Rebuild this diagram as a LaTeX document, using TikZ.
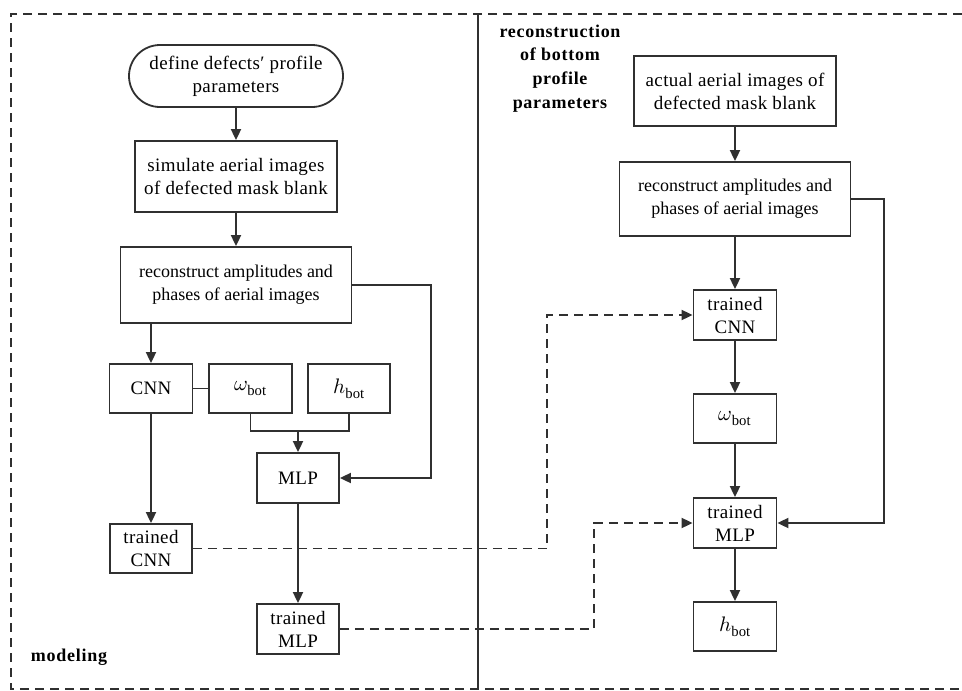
\documentclass[tikz,border=0pt]{standalone}
\usepackage{fontspec}
\usepackage{unicode-math}
\setmainfont{Liberation Serif}
\setmathfont{Latin Modern Math}
\usetikzlibrary{arrows.meta,shapes.misc,calc}
\definecolor{ln}{HTML}{303030}
\tikzset{
  box/.style={draw=ln, line width=1.8pt, rectangle, align=center, inner sep=2pt, text=black,
     font=\fontsize{19}{23}\selectfont\addfontfeature{LetterSpace=2}},
  rbox/.style={box, font=\fontsize{18}{23}\selectfont},
  arr/.style={draw=ln, line width=1.8pt, -{Triangle[length=11pt,width=10pt]}},
  plain/.style={draw=ln, line width=1.8pt},
  dasharr/.style={draw=ln, line width=1.8pt, dash pattern=on 9pt off 6pt, -{Triangle[length=11pt,width=10pt]}},
  frame/.style={draw=ln, line width=1.8pt, dash pattern=on 9pt off 6pt},
  lbl/.style={align=center, text=black, font=\fontsize{18}{23.7}\selectfont\bfseries\addfontfeature{LetterSpace=4}},
  mth/.style={font=\fontsize{21}{23}\selectfont}
}
\begin{document}
\begin{tikzpicture}[x=1pt,y=-1pt]
\useasboundingbox (0,0) rectangle (962,691);
% frames
\draw[frame] (962,14) -- (11,14) -- (11,689) -- (962,689);
\draw[plain] (478,14) -- (478,689);
% left column
\node[box, rounded rectangle, minimum width=218pt, minimum height=62pt] (def) at (236,76) {define defects′ profile\\parameters};
\node[box, minimum width=202pt, minimum height=71pt] (sim) at (236,176.5) {simulate aerial images\\of defected mask blank};
\node[rbox, minimum width=231pt, minimum height=76pt] (recL) at (236,285) {reconstruct amplitudes and\\phases of aerial images};
\node[box, minimum width=83pt, minimum height=49pt] (cnn) at (151,388.5) {CNN};
\node[box, mth, minimum width=83pt, minimum height=49pt] (omL) at (250.5,388.5) {$\omega_{\mathrm{bot}}$};
\node[box, mth, minimum width=82pt, minimum height=49pt] (hL) at (349,388.5) {$h_{\mathrm{bot}}$};
\node[box, minimum width=82pt, minimum height=50pt] (mlp) at (298,478) {MLP};
\node[box, minimum width=82pt, minimum height=49pt] (tcnnL) at (151,548.5) {trained\\CNN};
\node[box, minimum width=82pt, minimum height=50pt] (tmlpL) at (298,629) {trained\\MLP};
\node[lbl] (model) at (69,657) {modeling};
% right column
\node[lbl] (rlbl) at (560,68.5) {reconstruction\\of bottom\\profile\\parameters};
\node[box, minimum width=202pt, minimum height=70pt] (act) at (735,91) {actual aerial images of\\defected mask blank};
\node[rbox, minimum width=231pt, minimum height=74pt] (recR) at (735,199) {reconstruct amplitudes and\\phases of aerial images};
\node[box, minimum width=83pt, minimum height=50pt] (tcnnR) at (735,315) {trained\\CNN};
\node[box, mth, minimum width=83pt, minimum height=49pt] (omR) at (735,418.5) {$\omega_{\mathrm{bot}}$};
\node[box, minimum width=83pt, minimum height=50pt] (tmlpR) at (735,523) {trained\\MLP};
\node[box, mth, minimum width=83pt, minimum height=49pt] (hR) at (735,626.5) {$h_{\mathrm{bot}}$};
% helper coordinates
\coordinate (cL) at (431,478);
\coordinate (jL) at (298,431);
\coordinate (dA) at (547,0);
\coordinate (dB) at (594,0);
\coordinate (cR) at (884,523);
% left connectors
\draw[arr] (def) -- (sim);
\draw[arr] (sim) -- (recL);
\draw[arr] (recL.south -| cnn.north) -- (cnn.north);
\draw[arr] (recL.east) -| (cL) -- (mlp.east);
\draw[plain] (cnn.east) -- (omL.west);
\draw[plain] (omL.south) |- (jL) -| (hL.south);
\draw[arr] (jL) -- (mlp.north);
\draw[arr] (cnn) -- (tcnnL);
\draw[arr] (mlp) -- (tmlpL);
% dashed transfers
\draw[dasharr] (tcnnL.east) -- (tcnnL.east -| dA) |- (tcnnR.west);
\draw[dasharr] (tmlpL.east) -- (tmlpL.east -| dB) |- (tmlpR.west);
% right connectors
\draw[arr] (act) -- (recR);
\draw[arr] (recR.south -| tcnnR.north) -- (tcnnR.north);
\draw[arr] (tcnnR) -- (omR);
\draw[arr] (omR) -- (tmlpR);
\draw[arr] (recR.east) -| (cR) -- (tmlpR.east);
\draw[arr] (tmlpR) -- (hR);
\end{tikzpicture}
\end{document}
